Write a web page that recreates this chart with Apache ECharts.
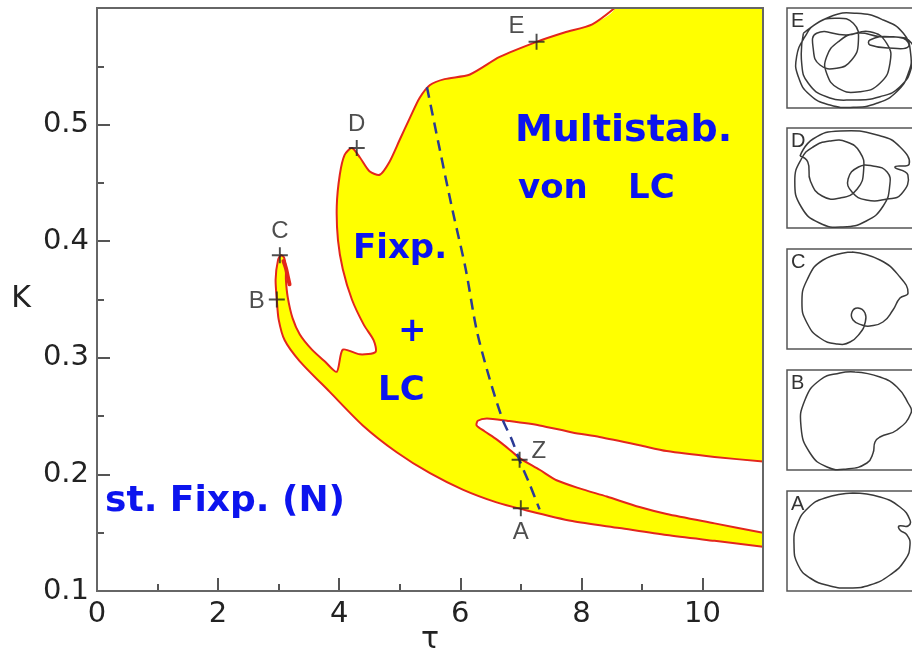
<!DOCTYPE html>
<html>
<head>
<meta charset="utf-8">
<script src="https://cdn.jsdelivr.net/npm/echarts@6/dist/echarts.min.js"></script>
<style>
  html, body { margin: 0; padding: 0; background: #fff; }
  #chart { width: 912px; height: 653px; }
</style>
</head>
<body>
<div id="chart"></div>
<script>
  // boundary of the yellow region (tau, K), from top edge round to the right edge below
  var outerEdge = [
    [8.55, 0.600], [8.18, 0.586], [7.72, 0.579], [7.26, 0.571], [6.65, 0.558], [6.16, 0.543],
    [5.74, 0.539], [5.50, 0.534], [5.33, 0.523], [5.17, 0.506], [5.00, 0.487], [4.83, 0.468],
    [4.67, 0.457], [4.50, 0.460], [4.34, 0.472], [4.21, 0.480], [4.09, 0.474], [4.01, 0.457],
    [3.96, 0.430], [3.98, 0.401], [4.06, 0.376], [4.21, 0.350], [4.41, 0.328], [4.57, 0.315],
    [4.60, 0.305], [4.34, 0.303], [4.06, 0.307], [3.96, 0.288], [3.76, 0.297], [3.55, 0.307],
    [3.35, 0.320], [3.23, 0.334], [3.15, 0.352], [3.12, 0.367], [3.12, 0.377], [3.09, 0.386],
    [3.04, 0.388], [2.99, 0.384], [2.95, 0.367], [2.97, 0.350], [3.00, 0.333], [3.10, 0.315],
    [3.35, 0.297], [3.84, 0.271], [4.39, 0.242], [4.95, 0.219], [5.50, 0.201], [6.04, 0.187],
    [6.60, 0.176], [7.03, 0.170], [7.85, 0.160], [8.63, 0.154], [9.41, 0.148], [10.20, 0.143],
    [11.0, 0.138]
  ];
  // white tongue: upper edge leftwards, tip, lower edge rightwards
  var tongueEdge = [
    [11.0, 0.211], [10.20, 0.215], [9.41, 0.220], [8.96, 0.225], [8.30, 0.232], [7.85, 0.236],
    [7.31, 0.242], [6.77, 0.246], [6.44, 0.248], [6.29, 0.246], [6.27, 0.242], [6.40, 0.237],
    [6.60, 0.230], [6.82, 0.221], [6.98, 0.214], [7.31, 0.204], [7.59, 0.195], [7.97, 0.188],
    [8.42, 0.181], [8.96, 0.172], [9.41, 0.166], [10.20, 0.158], [11.0, 0.150]
  ];
  var curl = [[3.08, 0.383], [3.12, 0.377], [3.15, 0.370], [3.18, 0.363]];
  var dashed = [
    [5.45, 0.532], [5.66, 0.479], [5.87, 0.427], [6.09, 0.376], [6.27, 0.324], [6.49, 0.281],
    [6.70, 0.247], [6.85, 0.230], [6.98, 0.212], [7.15, 0.191], [7.31, 0.170]
  ];
  var pointNames = ['A', 'B', 'C', 'D', 'E', 'Z'];
  var pointTau = [7.0, 2.97, 3.02, 4.29, 7.26, 6.98];
  var pointK = [0.171, 0.350, 0.388, 0.480, 0.571, 0.2125];

  // orbit sketches in the small boxes (normalized 0..1)
  var orbitE = [
    [0.126,0.747],[0.331,0.913],[0.536,0.947],[0.741,0.88],[0.895,0.747],[0.951,0.547],[0.933,0.347],
    [0.844,0.163],[0.69,0.047],[0.51,0.007],[0.331,0.03],[0.177,0.13],[0.087,0.313],[0.074,0.513],
    [0.138,0.713],[0.228,0.847],[0.369,0.897],[0.51,0.847],[0.549,0.663],[0.497,0.48],[0.382,0.397],
    [0.254,0.43],[0.203,0.58],[0.228,0.747],[0.459,0.73],[0.638,0.763],[0.767,0.647],[0.792,0.447],
    [0.715,0.247],[0.562,0.163],[0.395,0.197],[0.305,0.347],[0.305,0.513],[0.395,0.663],[0.536,0.747],
    [0.715,0.713],[0.895,0.697],[0.933,0.613],[0.818,0.597],[0.638,0.63],[0.638,0.68],[0.792,0.713],
    [0.959,0.647],[0.959,0.413],[0.869,0.213],[0.715,0.113],[0.51,0.08],[0.305,0.113],[0.164,0.247],
    [0.113,0.447],[0.126,0.747]
  ];
  var orbitD = [
    [0.10,0.72],[0.20,0.89],[0.41,0.97],[0.72,0.92],[0.87,0.81],[0.94,0.64],[0.83,0.61],[0.93,0.53],
    [0.88,0.34],[0.77,0.29],[0.61,0.28],[0.50,0.36],[0.47,0.49],[0.55,0.61],[0.66,0.62],[0.77,0.56],
    [0.79,0.42],[0.74,0.22],[0.61,0.07],[0.43,0.01],[0.25,0.05],[0.11,0.21],[0.06,0.47],[0.11,0.69],
    [0.20,0.81],[0.33,0.87],[0.46,0.86],[0.56,0.76],[0.59,0.59],[0.54,0.39],[0.41,0.30],[0.27,0.32],
    [0.18,0.47],[0.16,0.66],[0.10,0.72]
  ];
  var orbitC = [
    [0.5,0.97],[0.715,0.89],[0.869,0.72],[0.931,0.56],[0.869,0.51],[0.815,0.39],[0.738,0.27],
    [0.638,0.23],[0.577,0.24],[0.508,0.29],[0.5,0.37],[0.546,0.41],[0.6,0.36],[0.6,0.26],[0.562,0.16],
    [0.485,0.07],[0.385,0.05],[0.254,0.11],[0.154,0.26],[0.115,0.46],[0.154,0.69],[0.277,0.89],[0.5,0.97]
  ];
  var orbitB = [
    [0.523,0.98],[0.715,0.93],[0.846,0.83],[0.931,0.67],[0.954,0.57],[0.846,0.40],[0.715,0.33],
    [0.677,0.28],[0.662,0.17],[0.615,0.07],[0.462,0.01],[0.308,0.03],[0.177,0.17],[0.108,0.43],
    [0.138,0.70],[0.254,0.90],[0.408,0.97],[0.523,0.98]
  ];
  var orbitA = [
    [0.508,0.98],[0.715,0.94],[0.869,0.84],[0.946,0.71],[0.931,0.65],[0.862,0.65],[0.869,0.61],
    [0.923,0.56],[0.946,0.46],[0.908,0.31],[0.792,0.16],[0.638,0.06],[0.485,0.03],[0.331,0.05],
    [0.177,0.13],[0.085,0.26],[0.054,0.46],[0.077,0.66],[0.162,0.83],[0.292,0.93],[0.508,0.98]
  ];
  var orbits = [orbitE, orbitD, orbitC, orbitB, orbitA];
  var orbitNames = ['E', 'D', 'C', 'B', 'A'];
  var boxTops = [8, 128, 249, 370, 491];

  // fill outline: the red edges joined by corners that lie outside the plot (clipped away)
  var yellowRegion = outerEdge.concat(
    [[11.4, 0.138], [11.4, 0.150]],
    tongueEdge.slice().reverse(),
    [[11.4, 0.211], [11.4, 0.70], [8.55, 0.70]]
  );

  var chart = echarts.init(document.getElementById('chart'));
  var font = 'DejaVu Sans';
  var axisCol = '#555';
  var red = '#e3261c';
  var blue = '#0c14ee';

  // smooth path drawn through the axes of one grid
  function pathSeries(points, axisIdx, shapeType, style, smooth, z) {
    return {
      type: 'custom', xAxisIndex: axisIdx, yAxisIndex: axisIdx, z: z, silent: true, clip: true,
      data: [points[0]],
      renderItem: function (params, api) {
        var pts = points.map(function (p) { return api.coord(p); });
        return { type: shapeType, shape: { points: pts, smooth: smooth }, style: style };
      }
    };
  }

  var grids = [{ left: 97, top: 8, width: 666, height: 583, outerBoundsMode: 'none',
    show: true, borderColor: '#666', borderWidth: 2, z: 10 }];
  var xAxes = [
    { gridIndex: 0, type: 'value', min: 0, max: 11, interval: 2, name: 'τ', nameLocation: 'middle',
      nameGap: 34, nameMoveOverlap: false,
      nameTextStyle: { fontFamily: font, fontSize: 30, color: '#222' },
      axisLine: { lineStyle: { color: axisCol, width: 2 } },
      axisTick: { inside: true, length: 13, lineStyle: { color: axisCol, width: 2 } },
      axisLabel: { fontFamily: font, fontSize: 29, color: '#222', margin: 9, showMaxLabel: false },
      splitLine: { show: false } },
    { gridIndex: 0, type: 'value', min: 0, max: 11, interval: 1, position: 'bottom',
      axisLine: { show: false }, axisLabel: { show: false }, splitLine: { show: false },
      axisTick: { inside: true, length: 7, lineStyle: { color: axisCol, width: 2 } } }
  ];
  var yAxes = [
    { gridIndex: 0, type: 'value', min: 0.1, max: 0.6, interval: 0.1, name: 'K', nameLocation: 'middle',
      nameRotate: 0, nameGap: 66, nameMoveOverlap: false,
      nameTextStyle: { fontFamily: font, fontSize: 30, color: '#222' },
      axisLine: { lineStyle: { color: axisCol, width: 2 } },
      axisTick: { inside: true, length: 13, lineStyle: { color: axisCol, width: 2 } },
      axisLabel: { fontFamily: font, fontSize: 29, color: '#222', margin: 8, showMaxLabel: false },
      splitLine: { show: false } },
    { gridIndex: 0, type: 'value', min: 0.1, max: 0.6, interval: 0.05, position: 'left',
      axisLine: { show: false }, axisLabel: { show: false }, splitLine: { show: false },
      axisTick: { inside: true, length: 7, lineStyle: { color: axisCol, width: 2 } } }
  ];

  var series = [
    pathSeries(yellowRegion, 0, 'polygon', { fill: '#ffff00' }, 0.25, 1),
    pathSeries(outerEdge, 0, 'polyline', { fill: null, stroke: red, lineWidth: 2 }, 0.25, 3),
    pathSeries(tongueEdge, 0, 'polyline', { fill: null, stroke: red, lineWidth: 2 }, 0.25, 3),
    pathSeries(curl, 0, 'polyline', { fill: null, stroke: red, lineWidth: 4, lineCap: 'round' }, 0.3, 3),
    { type: 'line', data: dashed, showSymbol: false, z: 4, smooth: 0.3,
      lineStyle: { color: '#2b3a96', width: 2.5, type: [11, 7] } },
    {
      type: 'scatter', z: 5,
      symbol: 'path://M0 4.4H10V5.6H0Z M4.4 0H5.6V10H4.4Z', symbolSize: 16,
      itemStyle: { color: '#222' },
      label: { show: true, formatter: '{b}', fontFamily: 'Liberation Sans', fontSize: 24, color: '#222', distance: 4 },
      data: pointNames.map(function (n, i) {
        var pos = { A: 'bottom', B: 'left', C: 'top', D: 'top', E: 'left', Z: 'right' }[n];
        var off = { A: [0, 0], B: [0, 2], C: [0, 0], D: [0, 0], E: [0, -15], Z: [0, -8] }[n];
        return { name: n, value: [pointTau[i], pointK[i]], label: { position: pos, offset: off } };
      })
    }
  ];

  var hand = 'bold 34px "DejaVu Sans"';
  var graphics = [
    { type: 'text', z: 100, left: 515, top: 112, style: { text: 'Multistab.', font: 'bold 38px "DejaVu Sans"', fill: blue } },
    { type: 'text', z: 100, left: 518, top: 172, style: { text: 'von', font: hand, fill: blue } },
    { type: 'text', z: 100, left: 628, top: 172, style: { text: 'LC', font: hand, fill: blue } },
    { type: 'text', z: 100, left: 353, top: 232, style: { text: 'Fixp.', font: hand, fill: blue } },
    { type: 'text', z: 100, left: 398, top: 315, style: { text: '+', font: hand, fill: blue } },
    { type: 'text', z: 100, left: 378, top: 374, style: { text: 'LC', font: hand, fill: blue } },
    { type: 'text', z: 100, left: 105, top: 484, style: { text: 'st. Fixp. (N)', font: 'bold 36px "DejaVu Sans"', fill: blue } }
  ];

  orbits.forEach(function (orb, i) {
    grids.push({ left: 787, top: boxTops[i], width: 130, height: 100, outerBoundsMode: 'none',
      show: true, borderColor: '#555', borderWidth: 1.5 });
    xAxes.push({ gridIndex: i + 1, type: 'value', min: 0, max: 1, show: false });
    yAxes.push({ gridIndex: i + 1, type: 'value', min: 0, max: 1, show: false });
    var s = pathSeries(orb, i + 2, 'polyline', { fill: null, stroke: '#3a3a3a', lineWidth: 1.5 }, 0.5, 2);
    s.clip = false;
    series.push(s);
    graphics.push({ type: 'text', z: 100, left: 791, top: boxTops[i] + 3,
      style: { text: orbitNames[i], font: '20px "Liberation Sans"', fill: '#333' } });
  });

  chart.setOption({
    animation: false,
    backgroundColor: '#fff',
    grid: grids,
    xAxis: xAxes,
    yAxis: yAxes,
    series: series,
    graphic: graphics
  });
</script>
</body>
</html>
